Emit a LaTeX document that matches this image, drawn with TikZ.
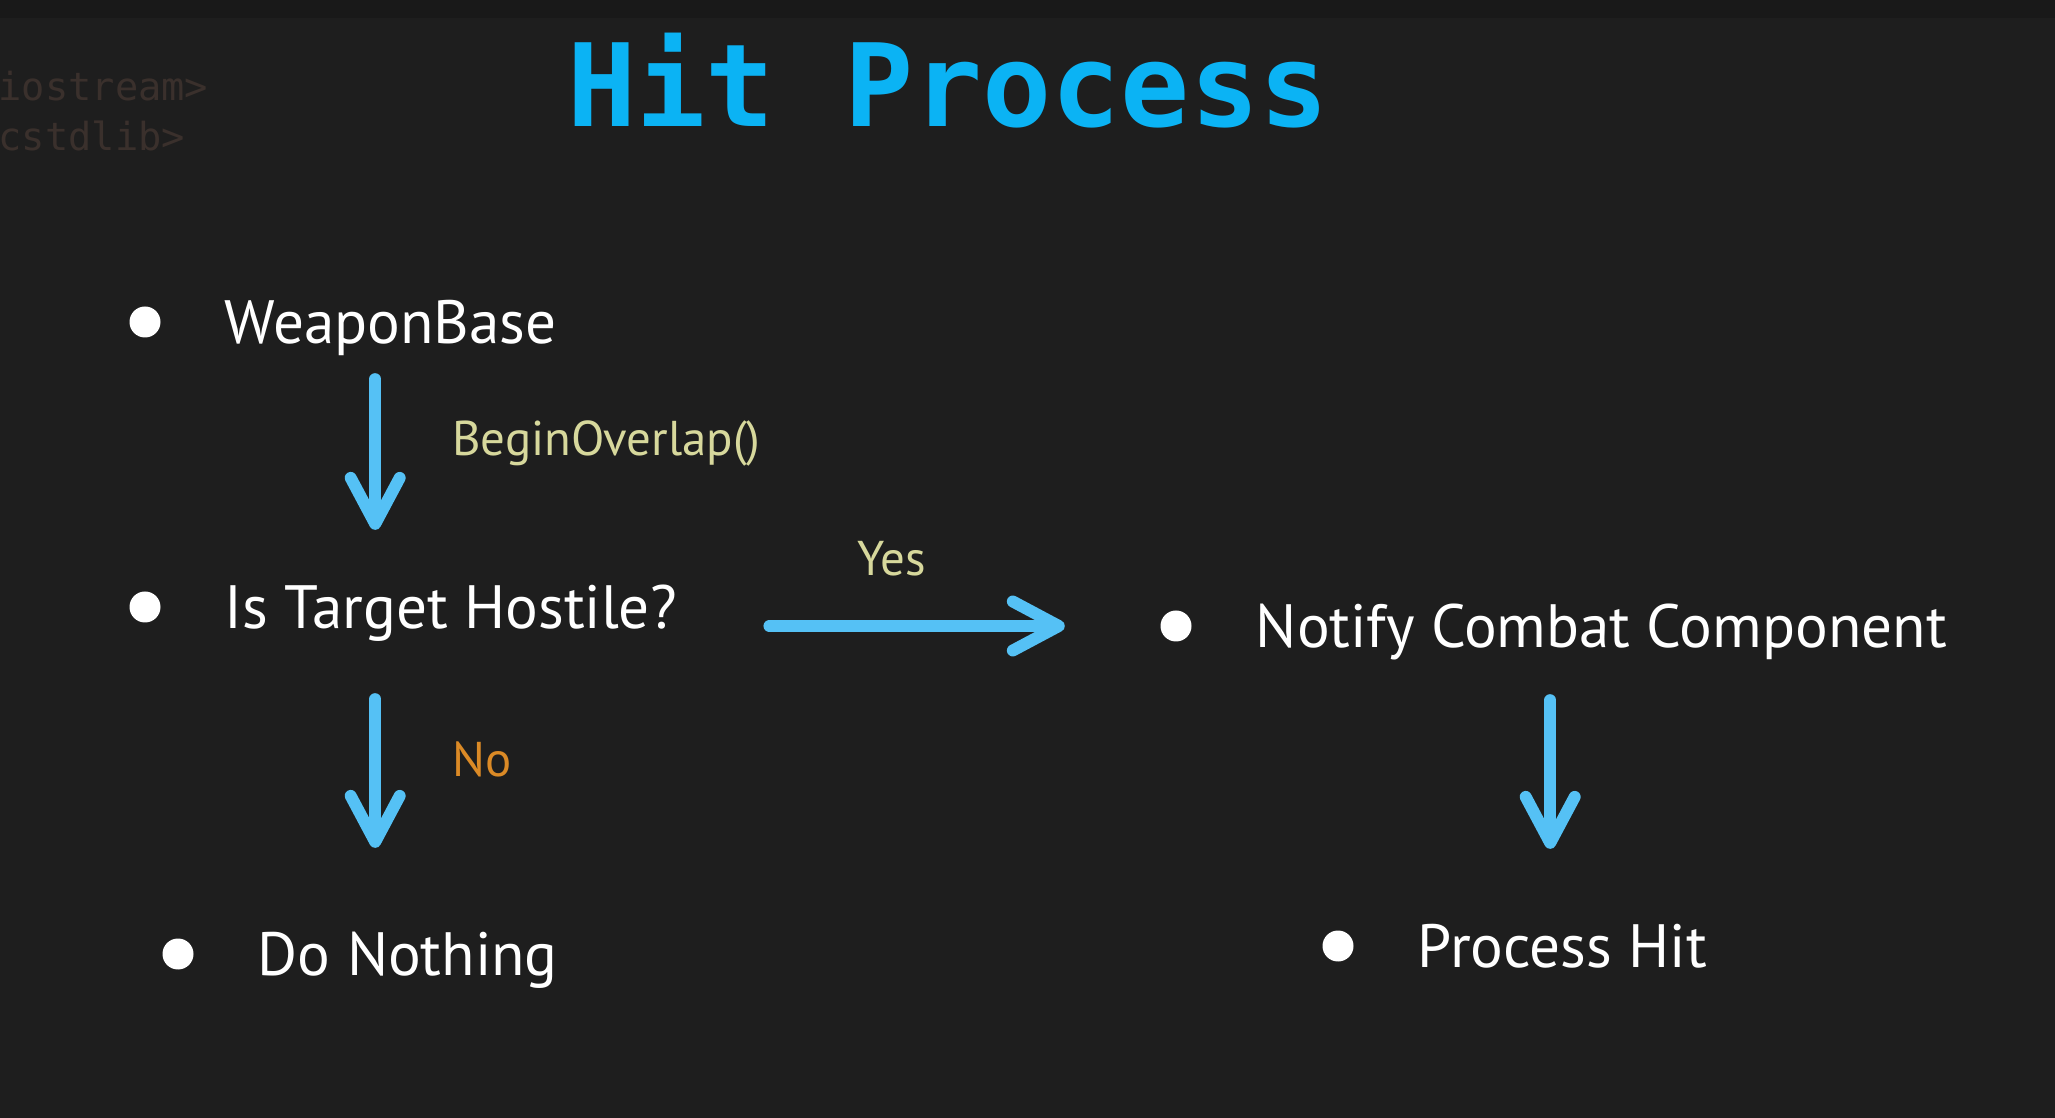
\documentclass[tikz,border=0pt]{standalone}
\usepackage{fontspec}
\setmainfont{PT Sans}
\newfontfamily\codefont{DejaVu Sans Mono}
\usepackage{xcolor}
\usetikzlibrary{arrows.meta,positioning}

\definecolor{bgdark}{HTML}{1E1E1E}
\definecolor{bgtop}{HTML}{191919}
\definecolor{titleblue}{HTML}{0BB3F4}
\definecolor{flowblue}{HTML}{55C1F5}
\definecolor{fnyellow}{HTML}{D7D89C}
\definecolor{noorange}{HTML}{DB8A26}
\definecolor{codegray}{HTML}{3A302C}

\begin{document}
\begin{tikzpicture}[
    dot/.style={
        circle,
        fill=white,
        minimum size=0.31cm,
        inner sep=0pt
    },
    item/.style={
        text=white,
        inner sep=0pt,
        font=\fontsize{17.4pt}{20pt}\selectfont,
        text height=12.2pt,
        text depth=0pt
    },
    lbl/.style={
        inner sep=0pt,
        font=\fontsize{13.9pt}{16pt}\selectfont,
        text height=9.7pt,
        text depth=0pt
    },
    flow/.style={-{Straight Barb[length=4.6mm, width=4.9mm, round]},
        line width=3.4pt, line cap=round, draw=flowblue}
]
% background
\fill[bgdark] (0,0) rectangle (20.55,-11.18);
\fill[bgtop] (0,0) rectangle (20.55,-0.18);
\useasboundingbox (0,0) rectangle (20.55,-11.18);

\node[anchor=base west, inner sep=0pt, text=codegray,
    font=\codefont\fontsize{11pt}{13pt}\selectfont] (inc1) at (-0.02,-1.01) {iostream>};
\node[anchor=base west, inner sep=0pt, text=codegray,
    font=\codefont\fontsize{11pt}{13pt}\selectfont] (inc2) at (-0.02,-1.51) {cstdlib>};

\node[anchor=base, inner sep=0pt, text=titleblue,
    font=\codefont\bfseries\fontsize{32.7pt}{36pt}\selectfont] (title) at (9.48,-1.27) {Hit Process};

% steps
\node[dot] (wbdot) at (1.45,-3.22) {};
\node[item, right=0.63cm of wbdot] (wb) {WeaponBase};

\node[dot] (hostdot) at (1.45,-6.07) {};
\node[item, right=0.63cm of hostdot] (hostile) {Is Target Hostile?};

\node[dot] (nothdot) at (1.78,-9.54) {};
\node[item, right=0.63cm of nothdot] (nothing) {Do Nothing};

\node[dot] (notifydot) at (11.76,-6.26) {};
\node[item, right=0.63cm of notifydot] (notify) {Notify Combat Component};

\node[dot] (hitdot) at (13.38,-9.46) {};
\node[item, right=0.63cm of hitdot] (hit) {Process Hit};

% connectors
\draw[flow, shorten <=3.5mm, shorten >=5.5mm]
    ([xshift=15.1mm]wb.south west) -- ([xshift=15.1mm]wb.south west |- hostile.north)
    node[lbl, pos=0.39, right=0.71cm, text=fnyellow] (overlap) {BeginOverlap()};
\draw[flow, shorten <=7mm, shorten >=8.4mm]
    ([xshift=15.1mm]hostile.south west) -- ([xshift=15.1mm]hostile.south west |- nothing.north)
    node[lbl, pos=0.43, right=0.71cm, text=noorange] (no) {No};
\draw[flow, shorten <=9.2mm, shorten >=9.5mm]
    (hostile.east |- notifydot.west) -- (notifydot.west)
    node[lbl, pos=0.445, above=0.45cm, text=fnyellow] (yes) {Yes};
\draw[flow, shorten <=5.2mm, shorten >=7.5mm]
    ([xshift=29.5mm]notify.south west) -- ([xshift=29.5mm]notify.south west |- hit.north);
\end{tikzpicture}
\end{document}
